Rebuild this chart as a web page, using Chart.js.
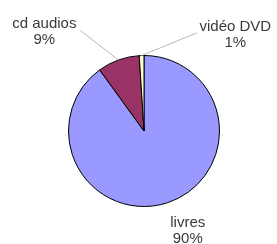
<!DOCTYPE html>
<html>
<head>
<meta charset="utf-8">
<script src="https://cdn.jsdelivr.net/npm/chart.js@4/dist/chart.umd.min.js"></script>
<style>
html,body{margin:0;padding:0;background:#fff;}
#wrap{width:277px;height:244px;position:relative;}
</style>
</head>
<body>
<div id="wrap"><canvas id="c" width="277" height="244"></canvas></div>
<script>
const categories = ["livres", "cd audios", "vidéo DVD"];
const values = [90, 9, 1];
const percentLabels = ["90%", "9%", "1%"];

const colors = ["#9999FF", "#993366", "#FFFFCC"];

// label placement, relative to pie centre in units of radius
const labelPlacement = [
  { dx: 0.58, dy: 1.265, line: false },
  { dx: -1.32, dy: -1.37, line: true, ex: -0.84, ey: -1.33 },
  { dx: 1.21, dy: -1.33, line: true, ex: 0.70, ey: -1.30 }
];

const labelPlugin = {
  id: 'pieLabels',
  afterDatasetsDraw(chart) {
    const ctx = chart.ctx;
    const meta = chart.getDatasetMeta(0);
    ctx.save();
    meta.data.forEach((arc, i) => {
      const p = labelPlacement[i];
      const R = arc.outerRadius;
      const cx = arc.x, cy = arc.y;
      if (p.line) {
        const mid = (arc.startAngle + arc.endAngle) / 2;
        const sx = cx + Math.cos(mid) * R;
        const sy = cy + Math.sin(mid) * R;
        ctx.beginPath();
        ctx.strokeStyle = '#b8b8b8';
        ctx.lineWidth = 1;
        ctx.moveTo(sx, sy);
        ctx.lineTo(cx + p.ex * R, cy + p.ey * R);
        ctx.stroke();
      }
      ctx.fillStyle = '#3a3a3a';
      ctx.font = '15px "Liberation Sans", Arial, sans-serif';
      ctx.textAlign = 'center';
      ctx.textBaseline = 'alphabetic';
      const tx = cx + p.dx * R;
      const ty = cy + p.dy * R;
      ctx.fillText(categories[i], tx, ty);
      ctx.fillText(percentLabels[i], tx, ty + 16);
    });
    ctx.restore();
  }
};

new Chart(document.getElementById('c'), {
  type: 'pie',
  data: {
    labels: categories,
    datasets: [{
      data: values,
      backgroundColor: colors,
      borderColor: '#000000',
      borderWidth: 1
    }]
  },
  options: {
    responsive: false,
    animation: false,
    devicePixelRatio: 1,
    layout: { padding: { left: 68, right: 57, top: 55, bottom: 37 } },
    plugins: {
      legend: { display: false },
      tooltip: { enabled: false }
    }
  },
  plugins: [labelPlugin]
});
</script>
</body>
</html>
